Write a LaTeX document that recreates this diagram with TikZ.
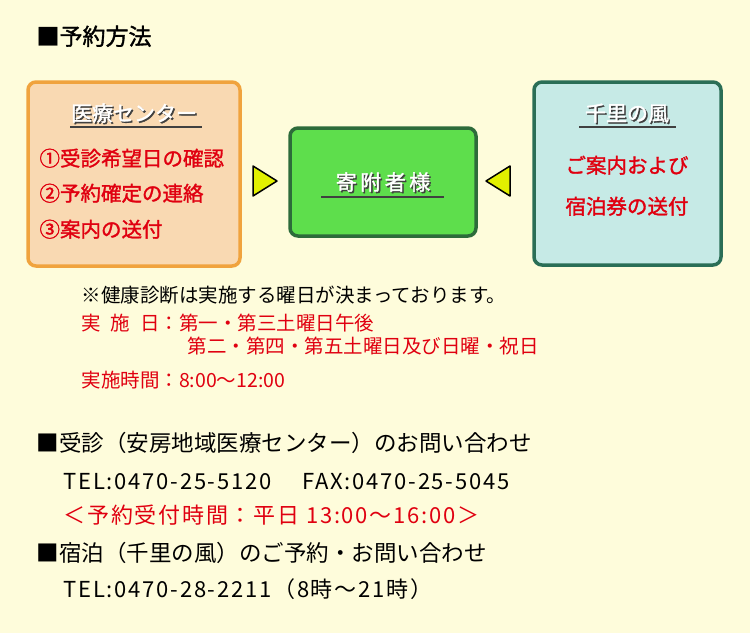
\documentclass[tikz,border=0pt]{standalone}
\usepackage{fontspec}
\setmainfont{Noto Sans CJK JP}
\newfontfamily\jpbold[FakeBold=1.5]{Noto Sans CJK JP}
\newfontfamily\jpwide[LetterSpace=8]{Noto Sans CJK JP}
\definecolor{bgyel}{HTML}{FEFCDB}
\definecolor{orgline}{HTML}{F0A33E}
\definecolor{orgfill}{HTML}{F9D9B2}
\definecolor{grnfill}{HTML}{5EDE4C}
\definecolor{grnline}{HTML}{2D6B3A}
\definecolor{cyafill}{HTML}{C6EAE6}
\definecolor{cyaline}{HTML}{2A6E56}
\definecolor{arrfill}{HTML}{E2F000}
\definecolor{txtred}{HTML}{E00010}
\tikzset{
    x=1pt, y=-1pt,
    panel/.style = {draw, line width=3.5pt, rounded corners=8pt},
    title/.style = {font=\jpbold\fontsize{21}{21}\selectfont, text=white, anchor=base},
    item/.style = {font=\jpbold\fontsize{20.5}{20.5}\selectfont, text=txtred, anchor=base west},
    note/.style = {font=\fontsize{19.5}{19.5}\selectfont, anchor=base west},
    info/.style = {font=\fontsize{22.5}{22.5}\selectfont, anchor=base west},
    wideinfo/.style = {font=\jpwide\fontsize{22}{22}\selectfont, anchor=base west},
    pointer/.style = {draw, line width=1.5pt, fill=arrfill, line join=round}
}
\begin{document}
\begin{tikzpicture}
\fill[bgyel] (0,0) rectangle (750,633);
\useasboundingbox (0,0) rectangle (750,633);

\node[font=\jpbold\fontsize{23}{23}\selectfont, anchor=base west] (head) at (33,45) {■予約方法};

% panels
\draw[panel, orgline, fill=orgfill] (28,82) rectangle (240,266);
\draw[panel, grnline, fill=grnfill] (290,128) rectangle (476,236);
\draw[panel, cyaline, fill=cyafill] (534,82) rectangle (721,265);

% pointers
\draw[pointer] (253,166) -- (277,181) -- (253,196) -- cycle;
\draw[pointer] (510,166) -- (486,181) -- (510,196) -- cycle;

% titles
\node[title, text=black!75] at (135.5,122.5) {医療センター};
\node[title] (center) at (134,121) {医療センター};
\draw[black!75, line width=1.2pt] (70,127) -- (202,127);
\node[title, text=black!75] at (384.5,191.5) {寄\,附\,者\,様};
\node[title] (donor) at (383,190) {寄\,附\,者\,様};
\draw[black!75, line width=1.2pt] (321,197) -- (444,197);
\node[title, text=black!75] at (628.5,122.5) {千里の風};
\node[title] (inn) at (627,121) {千里の風};
\draw[black!75, line width=1.2pt] (579,127) -- (676,127);

% items
\node[item] (step1) at (36,166) {①受診希望日の確認};
\node[item] (step2) at (36,201) {②予約確定の連絡};
\node[item] (step3) at (36,237) {③案内の送付};
\node[item, anchor=base] (send1) at (627,173) {ご案内および};
\node[item, anchor=base] (send2) at (627,214) {宿泊券の送付};

% notes
\node[note] (remark) at (78,302) {※健康診断は実施する曜日が決まっております。};
\node[note, text=txtred] (days1) at (78,330) {実\hspace{0.5em}施\hspace{0.5em}日：第一・第三土曜日午後};
\node[note, text=txtred] (days2) at (184,353) {第二・第四・第五土曜日及び日曜・祝日};
\node[note, text=txtred] (hours) at (78,387) {実施時間：8:00～12:00};

% contacts
\node[info] (clinic) at (33,451) {■受診（安房地域医療センター）のお問い合わせ};
\node[wideinfo] (clinictel) at (60,489) {TEL:0470-25-5120\hspace{1.4em}FAX:0470-25-5045};
\node[wideinfo, text=txtred] (recept) at (60,523) {＜予約受付時間：平日 13:00～16:00＞};
\node[info] (stay) at (33,561) {■宿泊（千里の風）のご予約・お問い合わせ};
\node[wideinfo] (staytel) at (60,597) {TEL:0470-28-2211（8時～21時）};
\end{tikzpicture}
\end{document}
